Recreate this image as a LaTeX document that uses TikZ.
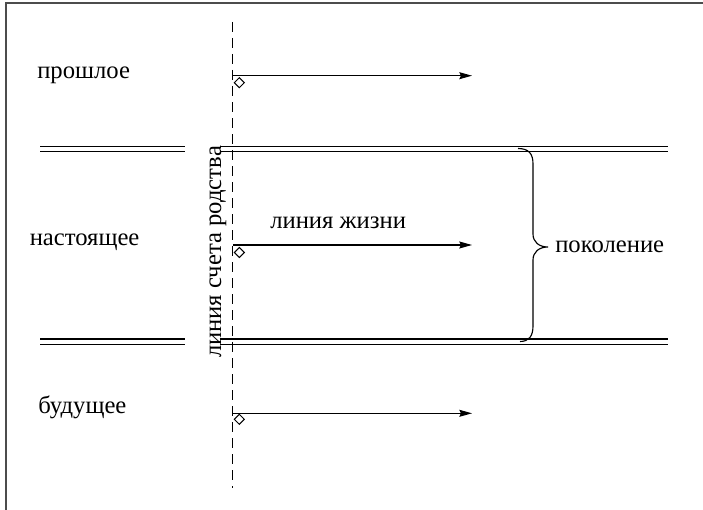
\documentclass[tikz,border=0pt]{standalone}
\usepackage{fontspec}
\setmainfont{Liberation Serif}
\usetikzlibrary{arrows.meta,shapes.geometric}

\tikzset{
  lbl/.style={inner sep=0pt, font=\fontsize{18.5}{22}\selectfont},
  border/.style={draw=black!70, line width=1.5pt},
  gen/.style={line width=0.95pt, double=white, double distance=3.2pt},
  kin/.style={line width=1.2pt, dash pattern=on 7.5pt off 4.5pt},
  life/.style={line width=0.85pt, -{Stealth[length=9.5pt, width=5.2pt, inset=1.2pt]}},
  birth/.style={shape=diamond, draw, line width=0.75pt, fill=white,
    inner sep=0pt, minimum size=7.8pt},
  bracket/.style={line width=0.85pt}
}

\begin{document}
\begin{tikzpicture}[x=0.75pt, y=-0.75pt]
  \useasboundingbox (0,0) rectangle (703,510);
  \begin{scope}
    \clip (0,0) rectangle (703,510);
    \draw[border] (5.5,3) rectangle (730,540);
  \end{scope}

  % generation boundaries
  \coordinate (t1) at (40,149);   \coordinate (t2) at (185,149);
  \coordinate (t3) at (219.5,149);\coordinate (t4) at (668,149);
  \coordinate (b1) at (40,341.7); \coordinate (b2) at (185,341.7);
  \coordinate (b3) at (219.5,341.7);\coordinate (b4) at (668,341.7);
  \draw[gen] (t1) -- (t2);
  \draw[gen] (t3) -- (t4);
  \draw[gen] (b1) -- (b2);
  \draw[gen] (b3) -- (b4);

  % kinship reckoning line
  \coordinate (k1) at (232.5,22);
  \coordinate (k2) at (232.5,488);
  \draw[kin] (k1) -- (k2);
  \node[lbl, rotate=90, anchor=base] (kinlabel) at (221,252)
    {линия счета родства};

  % life lines
  \coordinate (p0) at (233,75.7);  \coordinate (p1) at (472,75.7);
  \coordinate (n0) at (233,245);   \coordinate (n1) at (472,245);
  \coordinate (f0) at (233,413.3); \coordinate (f1) at (472,413.3);
  \draw[life] (p0) -- (p1);
  \draw[life] (n0) -- (n1);
  \draw[life] (f0) -- (f1);
  \node[birth] (dp) at (239.3,82.7) {};
  \node[birth] (dn) at (239.3,252.5) {};
  \node[birth] (df) at (239.3,419.3) {};

  % time labels
  \node[lbl, anchor=base west] (past) at (37,78.5) {прошлое};
  \node[lbl, anchor=base west] (present) at (29.5,245.5) {настоящее};
  \node[lbl, anchor=base west] (future) at (38,413.5) {будущее};
  \node[lbl, anchor=base west] (lifelabel) at (270,228) {линия жизни};

  % generation brace
  \coordinate (g1) at (518,148.5);
  \coordinate (g2) at (548,247);
  \coordinate (g3) at (520,341.5);
  \draw[bracket] (g1) .. controls (529,148.5) and (533,154) .. (533,164)
    -- (533,234) .. controls (533,242) and (539,247) .. (g2)
    .. controls (539,247) and (533,252) .. (533,260)
    -- (533,326) .. controls (533,336) and (529,341.5) .. (g3);
  \node[lbl, anchor=base west] (genlabel) at (555,252) {поколение};
\end{tikzpicture}
\end{document}
